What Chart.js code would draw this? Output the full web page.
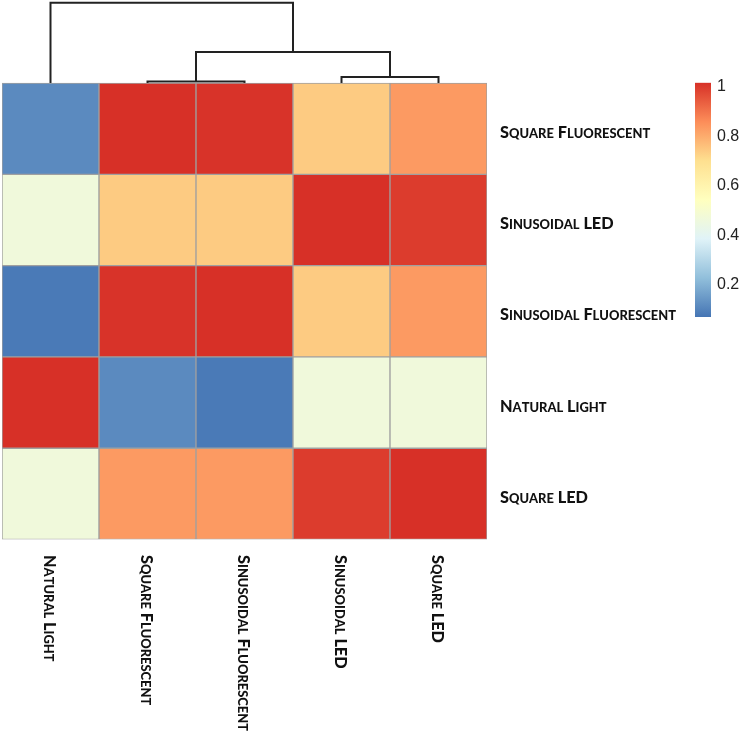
<!DOCTYPE html>
<html>
<head>
<meta charset="utf-8">
<script src="https://cdn.jsdelivr.net/npm/chart.js@4.4.1/dist/chart.umd.min.js"></script>
<style>
  html, body { margin: 0; padding: 0; background: #fff; }
  #wrap { position: relative; width: 742px; height: 731px; }
  #heatmap { position: absolute; left: 0; top: 0; }
  #scale { position: absolute; left: 680px; top: 60px; }
</style>
</head>
<body>
<div id="wrap">
  <canvas id="heatmap" width="742" height="731"></canvas>
  <canvas id="scale" width="62" height="280"></canvas>
</div>
<script>
// rows top to bottom, columns left to right
const rowLabels = ["Square Fluorescent", "Sinusoidal LED", "Sinusoidal Fluorescent", "Natural Light", "Square LED"];
const colLabels = ["Natural Light", "Square Fluorescent", "Sinusoidal Fluorescent", "Sinusoidal LED", "Square LED"];

const rowSquareFluorescent = [0.115, 1.00, 0.995, 0.73, 0.82];
const rowSinusoidalLed = [0.46, 0.73, 0.73, 1.00, 0.98];
const rowSinusoidalFluorescent = [0.08, 0.995, 1.00, 0.73, 0.82];
const rowNaturalLight = [1.00, 0.115, 0.08, 0.46, 0.46];
const rowSquareLed = [0.46, 0.82, 0.82, 0.98, 1.00];
const rowValues = [rowSquareFluorescent, rowSinusoidalLed, rowSinusoidalFluorescent, rowNaturalLight, rowSquareLed];

// column dendrogram, positions in column units, heights above the heatmap top in row units
const mergeLeft = [1.5, 3.5, 2, 0.5];
const mergeRight = [2.5, 4.5, 4, 3];
const mergeHeight = [0.017, 0.066, 0.34, 0.88];
const mergeLeftBase = [0, 0, 0.017, 0];
const mergeRightBase = [0, 0, 0.066, 0.34];

// colour key
const legendTicks = [0.2, 0.4, 0.6, 0.8, 1];
const valueMin = 0.07;
const valueMax = 1.0;
const keyMax = 1.016;
const palette = ["#4575B4", "#91BFDB", "#E0F3F8", "#FFFFBF", "#FEE090", "#FC8D59", "#D73027"];

function hexToRgb(h) {
  return [1, 3, 5].map(i => parseInt(h.slice(i, i + 2), 16));
}

function colourFor(v) {
  let f = (v - valueMin) / (valueMax - valueMin);
  f = Math.max(0, Math.min(1, f)) * (palette.length - 1);
  const i = Math.min(Math.floor(f), palette.length - 2);
  const t = f - i;
  const a = hexToRgb(palette[i]);
  const b = hexToRgb(palette[i + 1]);
  const c = a.map((x, k) => Math.round(x + (b[k] - x) * t));
  return `rgb(${c[0]}, ${c[1]}, ${c[2]})`;
}

// small caps by hand: capitals big, lower case letters drawn as small capitals
function drawCaps(ctx, text, x, y) {
  ctx.fillStyle = "#111";
  ctx.textBaseline = "alphabetic";
  ctx.textAlign = "left";
  let cx = x;
  for (const ch of text) {
    const big = ch === ch.toUpperCase();
    ctx.font = `900 ${big ? 16.3 : 12.9}px Lato`;
    const g = ch.toUpperCase();
    ctx.fillText(g, cx, y);
    cx += ctx.measureText(g).width;
  }
}

const labelPlugin = {
  id: "heatLabels",
  afterDraw(chart) {
    const { ctx } = chart;
    const { x, y } = chart.scales;
    ctx.save();
    rowLabels.forEach((name, r) => {
      const py = y.getPixelForValue(rowLabels.length - r - 0.5);
      drawCaps(ctx, name, x.right + 13, py + 9);
    });
    colLabels.forEach((name, c) => {
      const px = x.getPixelForValue(c + 0.5);
      ctx.save();
      ctx.translate(px - 7, y.bottom + 15.5);
      ctx.rotate(Math.PI / 2);
      drawCaps(ctx, name, 0, 0);
      ctx.restore();
    });
    ctx.restore();
  }
};

const nRows = rowLabels.length;

const cellSets = rowValues.map((vals, r) => ({
  type: "bar",
  label: rowLabels[r],
  data: vals.map((v, c) => ({ x: c + 0.5, y: [nRows - r - 1, nRows - r] })),
  backgroundColor: vals.map(colourFor),
  borderColor: "#a0a0a0",
  borderWidth: 1,
  borderSkipped: false,
  grouped: false,
  barPercentage: 1,
  categoryPercentage: 1
}));

const treeSets = mergeHeight.map((h, i) => ({
  type: "line",
  label: "tree" + i,
  data: [
    { x: mergeLeft[i], y: nRows + mergeLeftBase[i] },
    { x: mergeLeft[i], y: nRows + h },
    { x: mergeRight[i], y: nRows + h },
    { x: mergeRight[i], y: nRows + mergeRightBase[i] }
  ],
  borderColor: "#222",
  borderWidth: 2,
  pointRadius: 0,
  fill: false,
  tension: 0
}));

new Chart(document.getElementById("heatmap"), {
  type: "bar",
  data: { datasets: [...cellSets, ...treeSets] },
  options: {
    responsive: false,
    animation: false,
    layout: { padding: { left: 2, right: 255, top: 0, bottom: 191.5 } },
    plugins: { legend: { display: false }, tooltip: { enabled: false } },
    scales: {
      x: { type: "linear", min: 0, max: colLabels.length, offset: false, display: false, ticks: { stepSize: 1 } },
      y: { type: "linear", min: 0, max: 5.91, display: false }
    }
  },
  plugins: [labelPlugin]
});

new Chart(document.getElementById("scale"), {
  type: "bar",
  data: {
    labels: [""],
    datasets: [{
      data: [[valueMin, keyMax]],
      backgroundColor: (c) => {
        const area = c.chart.chartArea;
        if (!area) return palette[0];
        const g = c.chart.ctx.createLinearGradient(0, area.bottom, 0, area.top);
        palette.forEach((col, i) => g.addColorStop(i / (palette.length - 1), col));
        return g;
      },
      borderWidth: 0,
      barPercentage: 1,
      categoryPercentage: 1
    }]
  },
  options: {
    responsive: false,
    animation: false,
    layout: { padding: { left: 15, top: 22.7, bottom: 23, right: 0 } },
    plugins: { legend: { display: false }, tooltip: { enabled: false } },
    scales: {
      x: { display: false },
      y: {
        position: "right",
        min: valueMin,
        max: keyMax,
        grid: { display: false, drawTicks: false },
        border: { display: false },
        afterBuildTicks: (axis) => { axis.ticks = legendTicks.map(v => ({ value: v })); },
        afterFit: (axis) => { axis.width = 31; },
        ticks: {
          padding: 6,
          color: "#222",
          font: { family: "Liberation Sans", size: 16 },
          callback: (v) => String(v)
        }
      }
    }
  }
});
</script>
</body>
</html>
